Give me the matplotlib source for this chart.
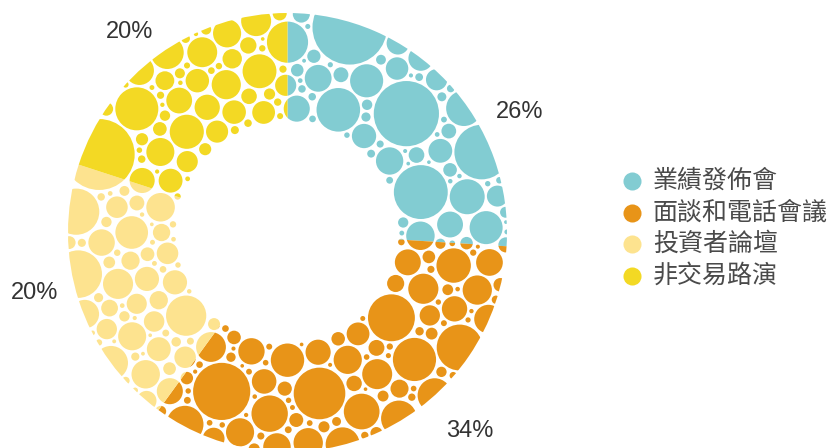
import numpy as np
import matplotlib.pyplot as plt
from matplotlib.patches import Wedge, Circle
from matplotlib.collections import PatchCollection

categories = ["業績發佈會", "面談和電話會議", "投資者論壇", "非交易路演"]
shares = [26, 34, 20, 20]
pct_labels = ["26%", "34%", "20%", "20%"]
colors = ["#82CCD2", "#E89418", "#FDE38F", "#F3D924"]

# label placement around the ring (angle in degrees, distance from centre in px)
label_pos = [(27.4, 262), (-47.4, 270), (193.5, 260), (128.2, 255)]

W, H = 830, 448
CX, CY = 287.5, H - 232.5
R_OUT, R_IN = 219.5, 111
GAP = 2.2
R_MIN = 1.8


def halton(n, base):
    out = np.zeros(n)
    for j in range(n):
        i, f, r = j + 1, 1.0, 0.0
        while i > 0:
            f /= base
            r += f * (i % base)
            i //= base
        out[j] = r
    return out


def pack_circles(n=40000, n_seed=400):
    # deterministic packing of the ring (texture only)
    u, v, w = halton(n, 2), halton(n, 3), halton(n, 5)
    ang = 2 * np.pi * u
    rad = np.sqrt(R_IN ** 2 + v * (R_OUT ** 2 - R_IN ** 2))
    px = CX + rad * np.cos(ang)
    py = CY + rad * np.sin(ang)
    cap = 14 + 26 * w ** 1.5

    fit = rad - R_IN
    circles = []

    def add(k, r):
        circles.append((px[k], py[k], r))
        d = np.hypot(px - px[k], py - py[k]) - r - GAP
        np.minimum(fit, d, out=fit)

    # seed: bigger circles grown until they touch
    for k in range(n_seed):
        if fit[k] >= 10:
            add(k, min(fit[k], cap[k]))
    # fill the holes, largest hole first
    while True:
        k = int(np.argmax(fit))
        if fit[k] < R_MIN:
            break
        add(k, min(fit[k], 17))
    return circles


circles = pack_circles()

fig = plt.figure(figsize=(8.3, 4.48), dpi=100)
ax = fig.add_axes([0, 0, 1, 1])
ax.set_xlim(0, W)
ax.set_ylim(0, H)
ax.axis("off")

start = 90.0
for share, color in zip(shares, colors):
    end = start - share * 3.6
    clip = Wedge((CX, CY), R_OUT, end, start, transform=ax.transData)
    pc = PatchCollection([Circle((x, y), r) for x, y, r in circles],
                         facecolor=color, edgecolor="none")
    ax.add_collection(pc)
    pc.set_clip_path(clip)
    start = end

for text, (a, d) in zip(pct_labels, label_pos):
    t = np.deg2rad(a)
    ax.text(CX + d * np.cos(t), CY + d * np.sin(t), text, ha="center", va="center",
            fontsize=17, color="#333333", family="Liberation Sans")

for i, (name, color) in enumerate(zip(categories, colors)):
    y = H - (181 + i * 31.6)
    ax.plot(632, y, "o", color=color, markersize=13, markeredgewidth=0)
    ax.text(653, y, name, ha="left", va="center", fontsize=18, color="#4a4a4a",
            family=["Noto Sans CJK TC", "DejaVu Sans"], fontweight="light")

fig.savefig("out.png", dpi=100)
